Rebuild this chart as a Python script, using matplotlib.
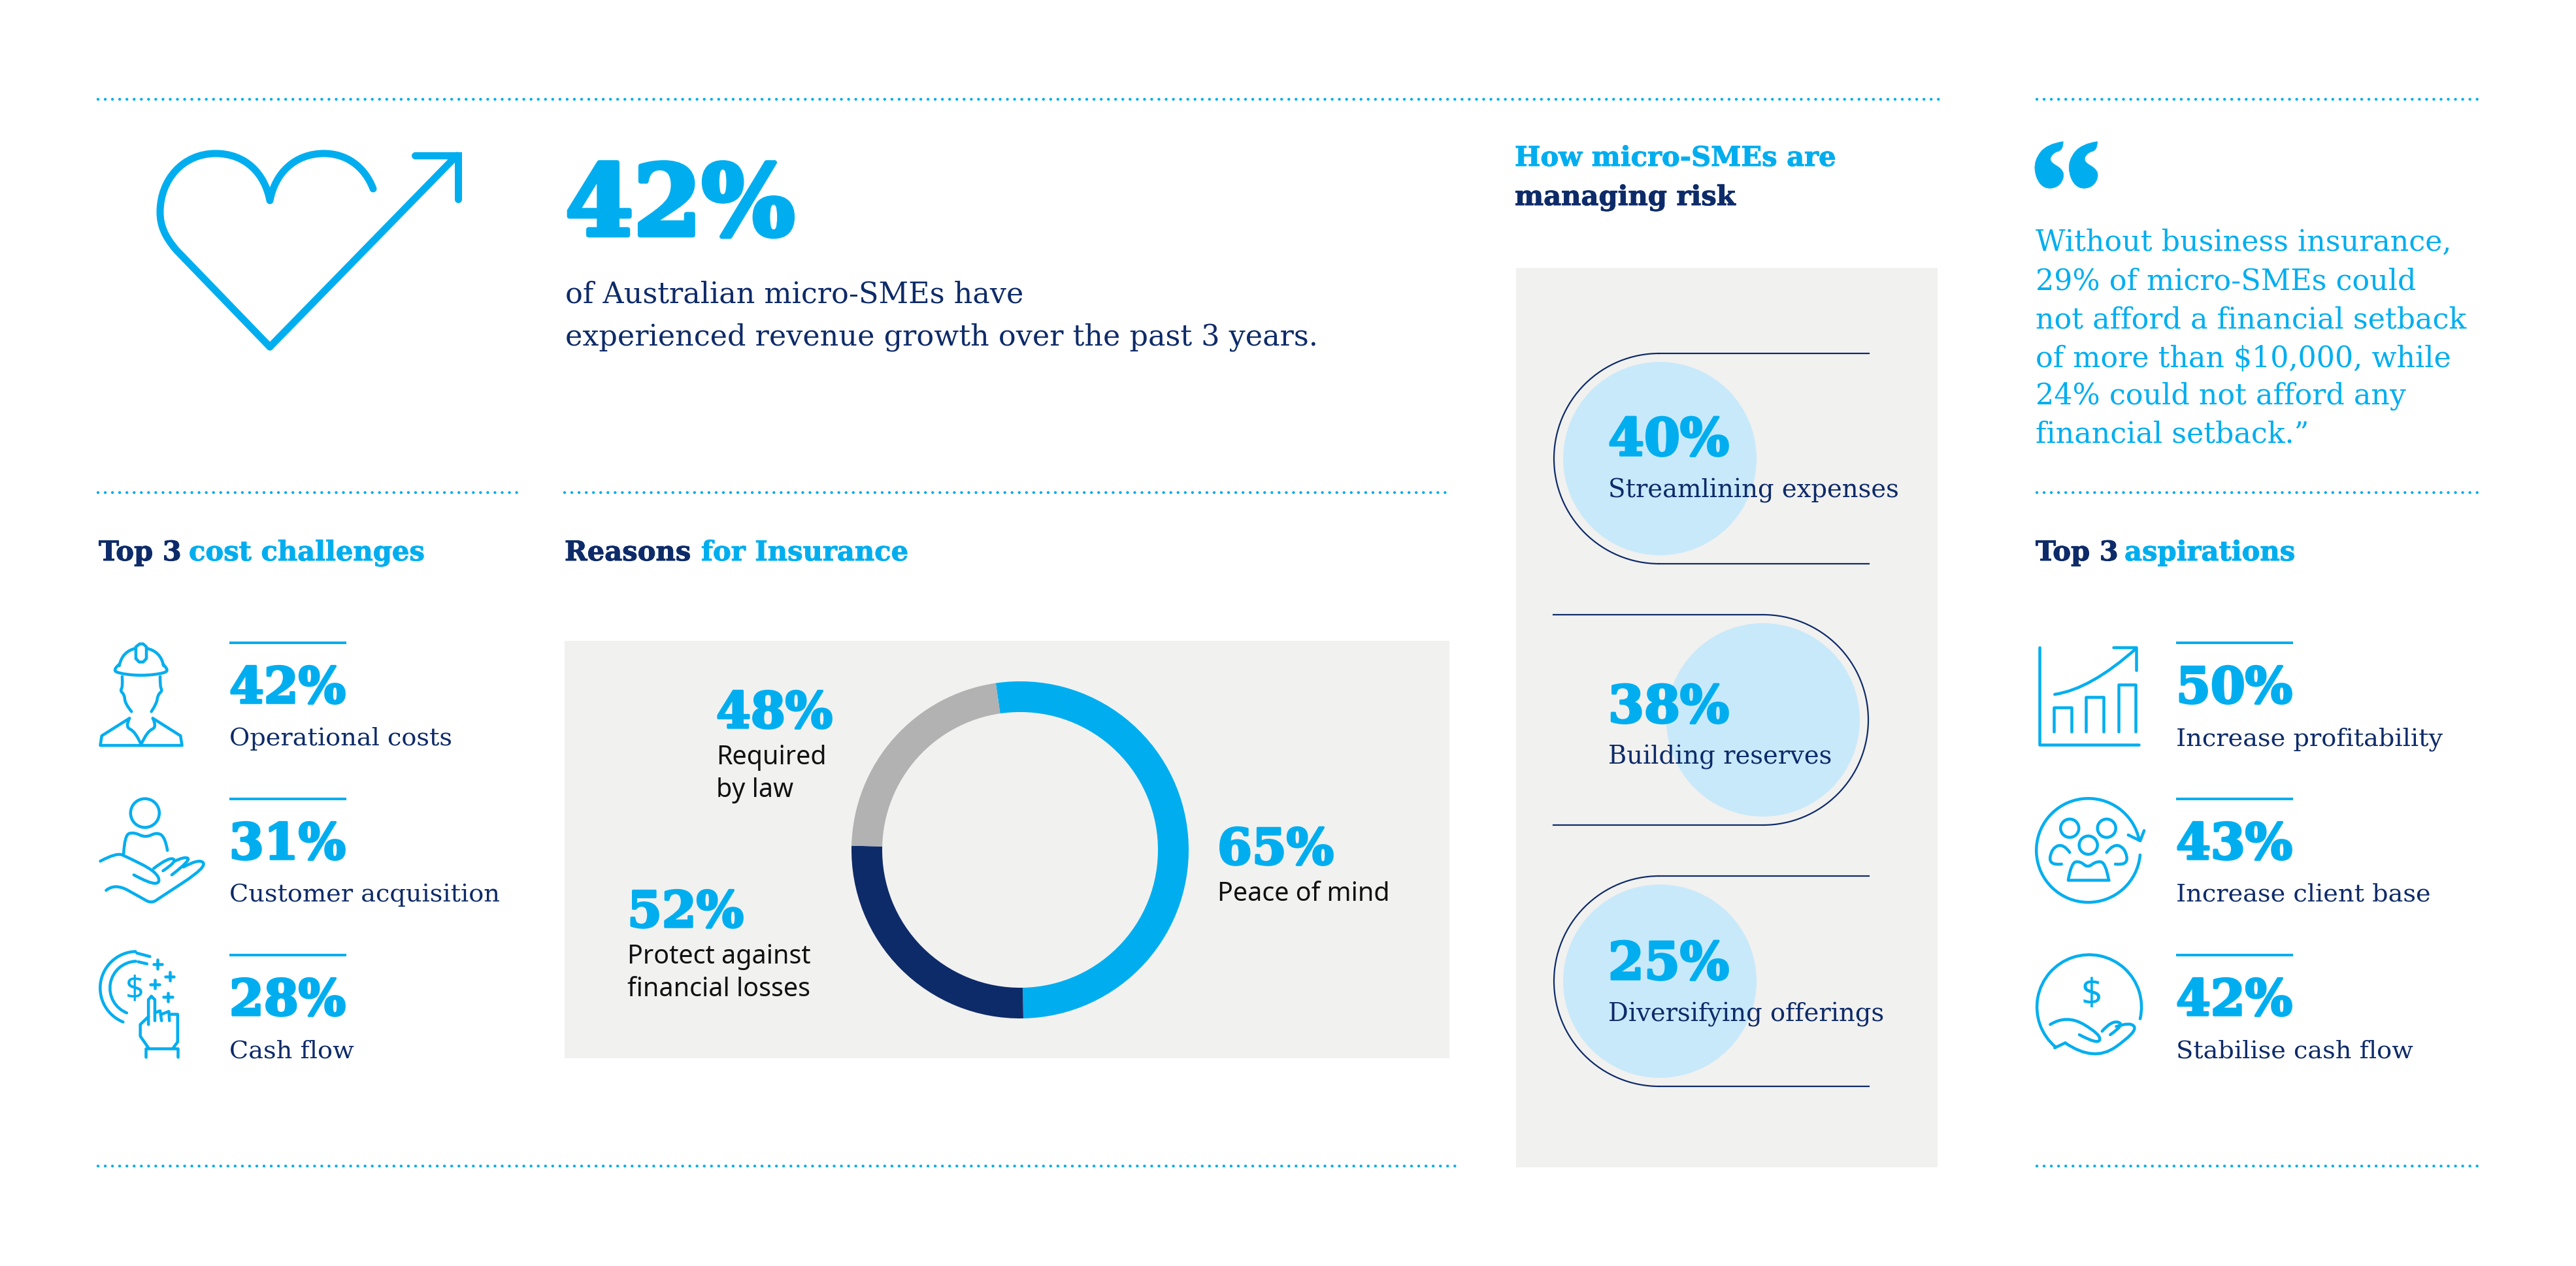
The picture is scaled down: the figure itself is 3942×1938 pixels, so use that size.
import matplotlib
matplotlib.use("Agg")
import matplotlib.pyplot as plt
import matplotlib.patheffects as pe
from matplotlib.patches import Arc, Circle, Rectangle
from matplotlib.path import Path
from matplotlib.patches import PathPatch

W, H = 3942, 1938
BLUE = "#00AEEF"
NAVY = "#0E2B69"
GREY = "#B2B2B2"
PANEL = "#F1F1F0"
PALE = "#C8E9FA"
INK = "#111111"
SERIF = "DejaVu Serif"
SANS = "Noto Sans"

# data
growth_value = 42
growth_lines = ["of Australian micro-SMEs have", "experienced revenue growth over the past 3 years."]
cost_labels = ["Operational costs", "Customer acquisition", "Cash flow"]
cost_values = [42, 31, 28]
aspiration_labels = ["Increase profitability", "Increase client base", "Stabilise cash flow"]
aspiration_values = [50, 43, 42]
risk_labels = ["Streamlining expenses", "Building reserves", "Diversifying offerings"]
risk_values = [40, 38, 25]
reason_labels = ["Peace of mind", "Protect against\nfinancial losses", "Required\nby law"]
reason_values = [65, 52, 48]
# the ring does not follow the printed values, these are its measured arcs
ring_shares = [52.0, 25.7, 22.3]
quote_lines = [
    "Without business insurance,",
    "29% of micro-SMEs could",
    "not afford a financial setback",
    "of more than $10,000, while",
    "24% could not afford any",
    "financial setback.\u201d",
]


def px(size):
    return size * 0.72


fig = plt.figure(figsize=(W / 100, H / 100), dpi=100, facecolor="white")
ax = fig.add_axes([0, 0, 1, 1])
ax.set_xlim(0, W)
ax.set_ylim(H, 0)
ax.axis("off")


def put(x, y, s, size, color=NAVY, weight="normal", family=SERIF, heavy=0, **kw):
    text = ax.text(x, y, s, fontsize=px(size), color=color, fontweight=weight, family=family,
                   ha="left", va="baseline", **kw)
    if heavy:
        # the reference face is heavier than DejaVu Serif Bold
        text.set_path_effects([pe.withStroke(linewidth=px(heavy), foreground=color)])
    return text


def dotted(x0, x1, y):
    ax.plot([x0, x1], [y, y], color=BLUE, lw=px(4.4), linestyle=(0, (0.01, 2.5)), dash_capstyle="round")


def smooth_path(pts):
    # quadratic spline through the midpoints, ends stay on the first and last point
    verts = [pts[0]]
    codes = [Path.MOVETO]
    for i in range(1, len(pts) - 1):
        next_pt = pts[i + 1] if i == len(pts) - 2 else ((pts[i][0] + pts[i + 1][0]) / 2, (pts[i][1] + pts[i + 1][1]) / 2)
        verts += [pts[i], next_pt]
        codes += [Path.CURVE3, Path.CURVE3]
    return Path(verts, codes)


class Icon:
    # icon outlines are written in crop coordinates and scaled to the page
    def __init__(self, x0, y0, sx, sy, lw=4.5):
        self.x0, self.y0, self.sx, self.sy, self.lw = x0, y0, sx, sy, px(lw)

    def tr(self, pts):
        return [(self.x0 + a / self.sx, self.y0 + b / self.sy) for a, b in pts]

    def line(self, *pts):
        xy = self.tr(pts)
        ax.plot([p[0] for p in xy], [p[1] for p in xy], color=BLUE, lw=self.lw,
                solid_capstyle="round", solid_joinstyle="round")

    def curve(self, *pts):
        ax.add_patch(PathPatch(smooth_path(self.tr(pts)), fc="none", ec=BLUE, lw=self.lw, capstyle="round", joinstyle="round"))

    def circle(self, x, y, r):
        c = self.tr([(x, y)])[0]
        ax.add_patch(Circle(c, r, fc="none", ec=BLUE, lw=self.lw))

    def arc(self, x, y, r, t0, t1):
        c = self.tr([(x, y)])[0]
        ax.add_patch(Arc(c, 2 * r, 2 * r, theta1=t0, theta2=t1, color=BLUE, lw=self.lw, capstyle="round"))

    def plus(self, x, y):
        self.line((x - 15, y), (x + 15, y))
        self.line((x, y - 15), (x, y + 15))

    def blob(self, *pts):
        ax.add_patch(PathPatch(smooth_path(self.tr(pts)), fc=BLUE, ec=BLUE, lw=0.5))


# panels
ax.add_patch(Rectangle((864, 981), 1354, 639, fc=PANEL, ec="none"))
ax.add_patch(Rectangle((2320, 410), 645, 1377, fc=PANEL, ec="none"))

# dotted rules
for x0, x1, y in [(150, 2974, 152), (3117, 3792, 152),
                  (150, 801, 754), (864, 2222, 754), (3117, 3792, 754),
                  (150, 2230, 1785), (3117, 3792, 1785)]:
    dotted(x0, x1, y)

# headline block
heart = Path(
    [(413, 531), (270, 383), (252, 362), (245, 345), (245, 325), (245, 275), (280, 235), (330, 235),
     (375, 235), (405, 265), (413, 307), (421, 265), (451, 235), (496, 235), (530, 235), (558, 255), (571, 289)],
    [Path.MOVETO, Path.LINETO] + [Path.CURVE4] * 15,
)
ax.add_patch(PathPatch(heart, fc="none", ec=BLUE, lw=px(11), capstyle="round", joinstyle="round"))
ax.plot([413, 699], [531, 238], color=BLUE, lw=px(11), solid_capstyle="round")
ax.plot([635, 701, 701], [238, 238, 305], color=BLUE, lw=px(11), solid_capstyle="round", solid_joinstyle="miter")

put(865, 360, f"{growth_value}%", 150, BLUE, "bold", heavy=7)
put(865, 463, growth_lines[0], 44.5)
put(865, 528, growth_lines[1], 44.5)

# section headings
HEAD = 41.7
put(151, 858, "Top 3", HEAD, NAVY, "bold", heavy=1)
put(289, 858, "cost challenges", HEAD, BLUE, "bold", heavy=1)
put(864, 858, "Reasons", HEAD, NAVY, "bold", heavy=1)
put(1073, 858, "for Insurance", HEAD, BLUE, "bold", heavy=1)
put(3115, 858, "Top 3", HEAD, NAVY, "bold", heavy=1)
put(3251, 858, "aspirations", HEAD, BLUE, "bold", heavy=1)
put(2318, 254, "How micro-SMEs are", HEAD, BLUE, "bold", heavy=1)
put(2318, 314, "managing risk", HEAD, NAVY, "bold", heavy=1)

# stat lists on both sides
ROW_Y = [984, 1223, 1462]
for x0, x1, values, labels in [(351, 530, cost_values, cost_labels), (3330, 3509, aspiration_values, aspiration_labels)]:
    for y, value, label in zip(ROW_Y, values, labels):
        ax.plot([x0, x1], [y, y], color=BLUE, lw=px(4), solid_capstyle="butt")
        put(x0, y + 92, f"{value}%", 76, BLUE, "bold", heavy=3.5)
        put(x0, y + 157, label, 38.3)

# left icons
ic = Icon(120, 950, 2.24, 2.24)
ic.line((197, 130), (197, 90), (210, 80), (222, 80), (233, 90), (233, 130), (222, 142), (208, 142), (197, 130))
ic.curve((140, 155), (150, 105), (197, 95))
ic.curve((233, 95), (282, 105), (292, 155))
ic.curve((140, 150), (122, 165), (130, 180), (215, 190), (300, 180), (306, 165), (290, 150))
ic.curve((150, 192), (152, 228), (143, 240), (158, 255), (160, 285), (182, 312))
ic.curve((280, 192), (280, 228), (288, 240), (272, 255), (268, 285), (250, 312))
ic.line((175, 335), (80, 395), (75, 428), (355, 428), (350, 395), (255, 335))
ic.curve((175, 335), (160, 365), (195, 380), (215, 425))
ic.curve((255, 335), (270, 365), (235, 380), (215, 425))

ic.circle(228, 660, 22)
ic.curve((155, 800), (158, 735), (190, 725), (230, 745), (270, 725), (298, 745), (305, 788))
ic.curve((75, 825), (130, 795), (170, 812), (265, 860), (282, 900), (245, 902), (190, 872))
ic.curve((258, 850), (310, 810), (340, 825), (290, 858))
ic.curve((330, 825), (365, 808), (385, 822), (320, 872))
ic.curve((360, 845), (415, 815), (440, 845), (280, 950), (250, 970), (215, 950), (125, 900), (95, 925))

ic.arc(200, 1260, 56, 112, 268)
ic.arc(200, 1260, 41, 112, 268)
ic.line((200, 1140), (245, 1152))
ic.line((205, 1170), (235, 1177))
put(120 + 162 / 2.24, 950 + 1296 / 2.24, "$", 50, BLUE, family=SANS)
for a, b in [(272, 1178), (313, 1220), (262, 1247), (307, 1291)]:
    ic.plus(a, b)
ic.line((240, 1385), (240, 1300), (250, 1288), (262, 1300), (262, 1372))
ic.line((262, 1345), (280, 1338), (285, 1372))
ic.line((285, 1350), (310, 1340), (312, 1372))
ic.line((312, 1350), (340, 1350), (340, 1445), (325, 1465))
ic.line((240, 1358), (212, 1385), (212, 1425), (240, 1465))
ic.line((230, 1497), (230, 1467), (340, 1467), (340, 1497))

# right icons
ic = Icon(3080, 950, 2.178, 2.24)
ic.line((90, 92), (90, 425), (420, 425))
for a, b, top in [(137, 195, 298), (245, 302, 262), (352, 410, 220)]:
    ic.line((a, 380), (a, top), (b, top), (b, 380))
ic.curve((140, 253), (260, 235), (412, 95))
ic.line((335, 92), (412, 92), (412, 170))

ic.arc(252, 788, 79.5, 5, 349)
ic.line((385, 735), (425, 755), (438, 720))
for a, b in [(190, 712), (313, 712), (252, 770)]:
    ic.circle(a, b, 14)
ic.line((185, 890), (320, 890))
ic.curve((185, 890), (195, 830), (225, 825), (250, 848), (278, 825), (310, 830), (320, 890))
ic.curve((163, 835), (120, 840), (130, 780), (170, 765), (190, 795))
ic.curve((342, 835), (385, 840), (375, 780), (335, 765), (313, 795))

ic.arc(255, 1325, 80, 130, 373)
ic.line((140, 1465), (175, 1448))
ic.curve((175, 1448), (270, 1515), (415, 1410), (395, 1375), (345, 1392))
ic.curve((125, 1385), (180, 1350), (295, 1420), (285, 1455), (222, 1420))
ic.curve((298, 1408), (330, 1370), (375, 1385), (325, 1420))
put(3080 + 228 / 2.178, 950 + 1320 / 2.24, "$", 56, BLUE, family=SANS)

# ring
RING_X, RING_Y, RING_R = 1561, 1301, 258
ring_ax = fig.add_axes([(RING_X - RING_R) / W, 1 - (RING_Y + RING_R) / H, 2 * RING_R / W, 2 * RING_R / H])
ring_ax.pie(ring_shares, colors=[BLUE, NAVY, GREY], startangle=98.3, counterclock=False, radius=1,
            wedgeprops={"width": 47 / RING_R, "linewidth": 0})
ring_ax.set_xlim(-1, 1)
ring_ax.set_ylim(-1, 1)
ring_ax.patch.set_visible(False)

for x, y, value, label in zip([1863, 960, 1096], [1323, 1419, 1114], reason_values, reason_labels):
    put(x, y, f"{value}%", 76, BLUE, "bold", heavy=3.5)
    for i, part in enumerate(label.split("\n")):
        put(x, y + 56 + 50 * i, part, 39.5, INK, family=SANS)

# risk pills
for cx, cy, left_round in [(2540, 702, True), (2698, 1102, False), (2540, 1502, True)]:
    ax.add_patch(Circle((cx, cy), 148, fc=PALE, ec="none"))
    top, bottom = cy - 161, cy + 161
    if left_round:
        ax.add_patch(Arc((2539, cy), 322, 322, theta1=90, theta2=270, color=NAVY, lw=px(2.2)))
        seg = (2539, 2860)
    else:
        ax.add_patch(Arc((2698, cy), 322, 322, theta1=-90, theta2=90, color=NAVY, lw=px(2.2)))
        seg = (2377, 2698)
    ax.plot(seg, [top, top], color=NAVY, lw=px(2.2))
    ax.plot(seg, [bottom, bottom], color=NAVY, lw=px(2.2))

for y, value, label in zip([697, 1106, 1499], risk_values, risk_labels):
    put(2461, y, f"{value}%", 79, BLUE, "bold", heavy=3.5)
    put(2461, y + 64, label, 38.5)

# quote: opening mark is drawn as a shape, the body is text
ic = Icon(3080, 180, 2.178, 2.613)
for shift in (0, 114):
    ic.blob((168 + shift, 96), (115 + shift, 105), (72 + shift, 170), (76 + shift, 240), (105 + shift, 285),
            (150 + shift, 280), (172 + shift, 240), (165 + shift, 205), (120 + shift, 175), (135 + shift, 140),
            (168 + shift, 130), (168 + shift, 96))
for y, line in zip([384, 443, 502, 561, 619, 677], quote_lines):
    put(3115, y, line, 44.4, BLUE)

fig.savefig("out.png", dpi=100, facecolor="white")
